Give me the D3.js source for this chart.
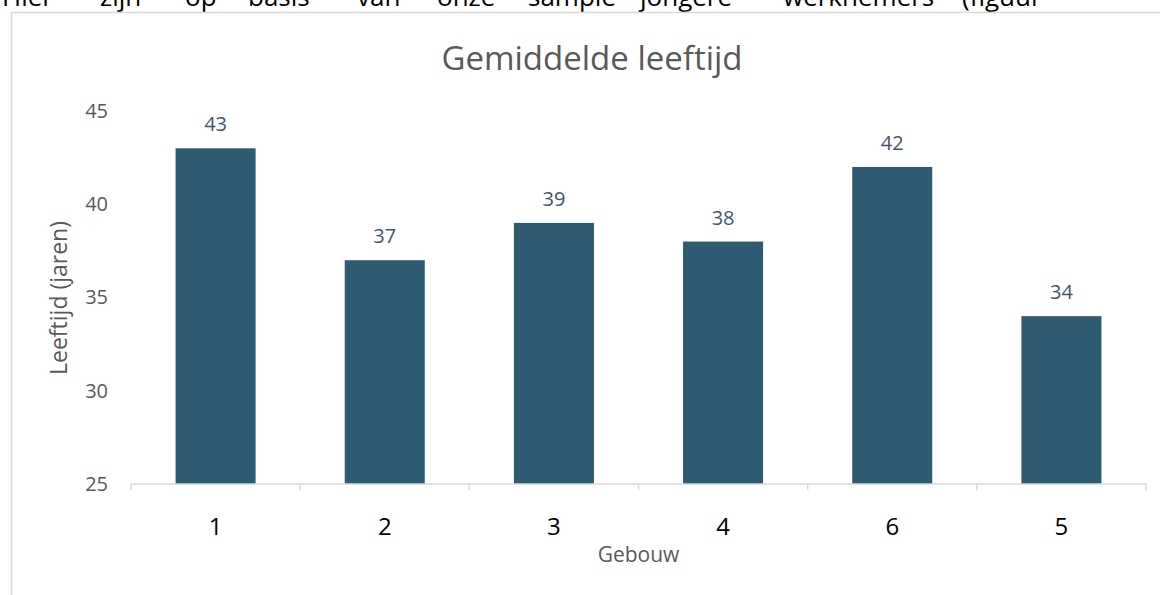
<!DOCTYPE html>
<html>
<head>
<meta charset="utf-8">
<script src="https://cdn.jsdelivr.net/npm/d3@7"></script>
<style>
  body { margin: 0; background: #fff; overflow: hidden; }
  text { font-family: "Open Sans", "Noto Sans", sans-serif; }
</style>
</head>
<body>
<div id="chart"></div>
<script>
// data
var categories = ["1", "2", "3", "4", "6", "5"];
var ages = [43, 37, 39, 38, 42, 34];
var yTicks = [25, 30, 35, 40, 45];

// text of the page line above the chart (justified, cut off at the top)
var introWords = ["Hier", "zijn", "op", "basis", "van", "onze", "sample", "jongere", "werknemers", "(figuur"];
var introX = [2, 100, 185, 248, 357, 437, 528, 640, 783, 962];

var svgWidth = 1160;
var svgHeight = 595;

var margin = { top: 111, right: 14, bottom: 111, left: 131 };
var width = svgWidth - margin.left - margin.right;
var height = svgHeight - margin.top - margin.bottom;

var svg = d3.select("#chart")
  .append("svg")
  .attr("width", svgWidth)
  .attr("height", svgHeight);

// page text
svg.append("g")
  .selectAll("text")
  .data(introWords)
  .join("text")
  .attr("x", (d, i) => introX[i])
  .attr("y", 6)
  .attr("font-size", 26)
  .attr("fill", "#000")
  .text(d => d);

// chart frame
svg.append("rect")
  .attr("x", 11.5)
  .attr("y", 12.5)
  .attr("width", 1300)
  .attr("height", 800)
  .attr("fill", "#fff")
  .attr("stroke", "#d9d9d9")
  .attr("stroke-width", 1.5);

var chartGroup = svg.append("g")
  .attr("transform", `translate(${margin.left}, ${margin.top})`);

var xScale = d3.scaleBand()
  .domain(categories)
  .range([0, width])
  .paddingInner(0.527)
  .paddingOuter(0.2635);

var yScale = d3.scaleLinear()
  .domain([25, 45])
  .range([height, 0]);

// bars
chartGroup.selectAll("rect.bar")
  .data(ages)
  .join("rect")
  .attr("class", "bar")
  .attr("x", (d, i) => xScale(categories[i]))
  .attr("y", d => yScale(d))
  .attr("width", xScale.bandwidth())
  .attr("height", d => height - yScale(d))
  .attr("fill", "#2e5a72");

// value labels
chartGroup.selectAll("text.value")
  .data(ages)
  .join("text")
  .attr("class", "value")
  .attr("x", (d, i) => xScale(categories[i]) + xScale.bandwidth() / 2)
  .attr("y", d => yScale(d) - 17)
  .attr("text-anchor", "middle")
  .attr("font-size", 20)
  .attr("fill", "#44546a")
  .text(d => d);

// x axis: line with ticks between categories
var step = xScale.step();
var xAxis = d3.axisBottom(xScale).tickSize(0).tickPadding(0);
var xAxisG = chartGroup.append("g")
  .attr("transform", `translate(0, ${height})`)
  .call(xAxis);
xAxisG.select(".domain").remove();
xAxisG.selectAll("text")
  .attr("y", 43)
  .attr("dy", "0.35em")
  .attr("font-size", 24)
  .attr("font-family", "'Open Sans', sans-serif")
  .attr("fill", "#000");

chartGroup.append("line")
  .attr("x1", 0).attr("x2", width)
  .attr("y1", height).attr("y2", height)
  .attr("stroke", "#d9d9d9")
  .attr("stroke-width", 1.5);

chartGroup.append("g")
  .selectAll("line")
  .data(d3.range(categories.length + 1))
  .join("line")
  .attr("x1", d => d * step)
  .attr("x2", d => d * step)
  .attr("y1", height)
  .attr("y2", height + 6)
  .attr("stroke", "#d9d9d9")
  .attr("stroke-width", 1.5);

// y axis labels only
var yAxis = d3.axisLeft(yScale).tickValues(yTicks).tickSize(0).tickPadding(23);
var yAxisG = chartGroup.append("g").call(yAxis);
yAxisG.select(".domain").remove();
yAxisG.selectAll("text")
  .attr("font-size", 20)
  .attr("font-family", "'Open Sans', sans-serif")
  .attr("fill", "#595959");

// title
svg.append("text")
  .attr("x", 592)
  .attr("y", 70)
  .attr("text-anchor", "middle")
  .attr("font-size", 33)
  .attr("fill", "#595959")
  .text("Gemiddelde leeftijd");

// axis titles
svg.append("text")
  .attr("x", margin.left + width / 2)
  .attr("y", 562)
  .attr("text-anchor", "middle")
  .attr("font-size", 21)
  .attr("fill", "#595959")
  .text("Gebouw");

svg.append("text")
  .attr("transform", `translate(67, 298) rotate(-90)`)
  .attr("text-anchor", "middle")
  .attr("font-size", 23)
  .attr("fill", "#595959")
  .text("Leeftijd (jaren)");
</script>
</body>
</html>
